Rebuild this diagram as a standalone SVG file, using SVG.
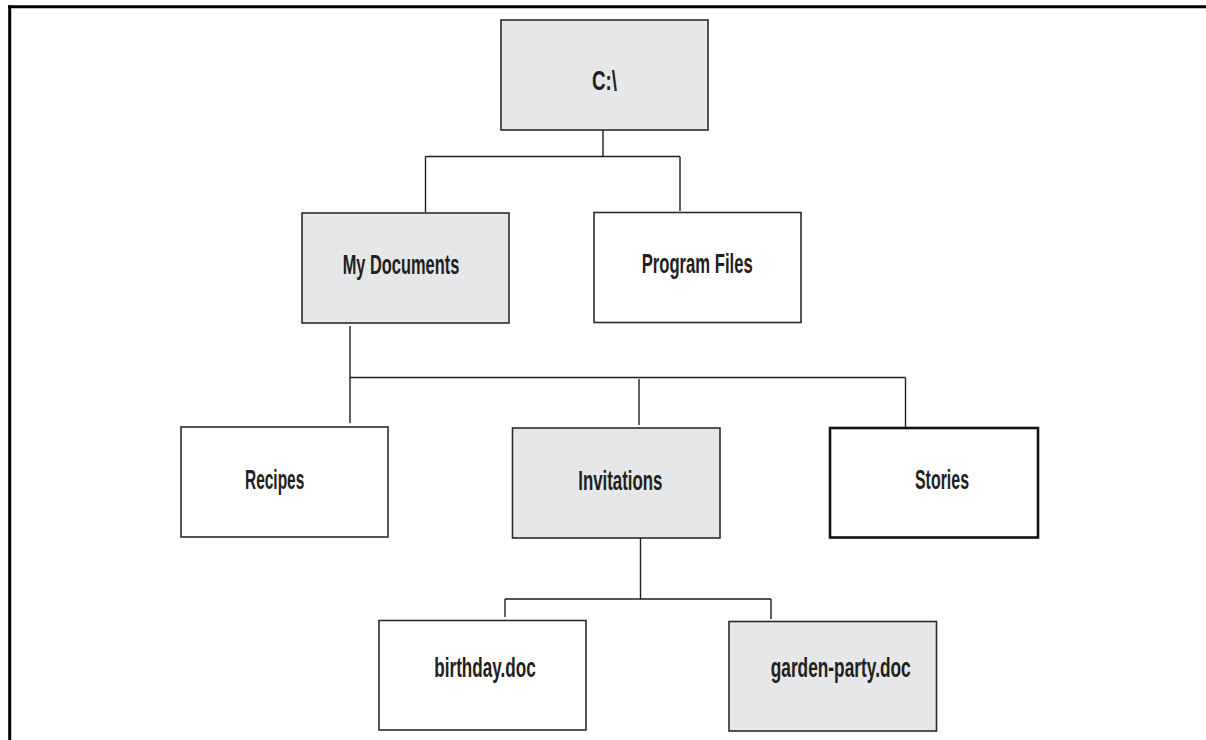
<svg xmlns="http://www.w3.org/2000/svg" width="1206" height="740" viewBox="0 0 1206 740">
<style>
.box{stroke:#2b2b2b;stroke-width:1.6}
.white{fill:#ffffff}
.gray{fill:#e6e7e8}
.heavy{stroke:#111;stroke-width:2.6}
.lbl{font-family:"Liberation Sans Narrow","Liberation Sans",Arial,sans-serif;font-size:28.5px;fill:#231f20;font-weight:bold}
.conn{fill:none;stroke:#1e1e1e;stroke-width:1.4}
.frame{fill:none;stroke:#000;stroke-width:3}
</style>
<rect x="0" y="0" width="1206" height="740" fill="#ffffff"/>
<g id="frame">
<line class="frame" x1="8" y1="6.7" x2="1206" y2="6.7"/>
<line class="frame" x1="9.7" y1="5.2" x2="9.7" y2="740"/>
</g>
<g id="connectors">
<path class="conn" d="M603,130 V156.5 M425.5,156.5 H680 M425.5,156.5 V212 M680,156.5 V211"/>
<path class="conn" d="M350,326 V423 M350,377.5 H905.5 M639,379 V425 M905.5,377.5 V427"/>
<path class="conn" d="M640.5,538 V599 M505,599 H771 M505,599 V617 M771,599 V619"/>
</g>
<g id="node-c">
<rect class="box gray" x="501" y="20" width="207" height="110"/>
<text class="lbl" x="592" y="90" textLength="25" lengthAdjust="spacingAndGlyphs">C:\</text>
</g>
<g id="node-mydocuments">
<rect class="box gray" x="302" y="213" width="207" height="110"/>
<text class="lbl" x="342.7" y="273.5" textLength="116.6" lengthAdjust="spacingAndGlyphs">My Documents</text>
</g>
<g id="node-programfiles">
<rect class="box white" x="594" y="212.5" width="207" height="110"/>
<text class="lbl" x="641.7" y="272.5" textLength="111" lengthAdjust="spacingAndGlyphs">Program Files</text>
</g>
<g id="node-recipes">
<rect class="box white" x="181" y="427" width="207" height="110"/>
<text class="lbl" x="245" y="489" textLength="59.3" lengthAdjust="spacingAndGlyphs">Recipes</text>
</g>
<g id="node-invitations">
<rect class="box gray" x="512.5" y="428" width="207.5" height="110"/>
<text class="lbl" x="578.3" y="490" textLength="84" lengthAdjust="spacingAndGlyphs">Invitations</text>
</g>
<g id="node-stories">
<rect class="heavy white" x="830" y="428" width="208" height="109.5"/>
<text class="lbl" x="915" y="489" textLength="54" lengthAdjust="spacingAndGlyphs">Stories</text>
</g>
<g id="node-birthday">
<rect class="box white" x="379" y="620.5" width="207" height="109.5"/>
<text class="lbl" x="434.3" y="677" textLength="101.4" lengthAdjust="spacingAndGlyphs">birthday.doc</text>
</g>
<g id="node-gardenparty">
<rect class="box gray" x="729" y="621.5" width="207.5" height="109.5"/>
<text class="lbl" x="770.7" y="677" textLength="140" lengthAdjust="spacingAndGlyphs">garden-party.doc</text>
</g>
</svg>
